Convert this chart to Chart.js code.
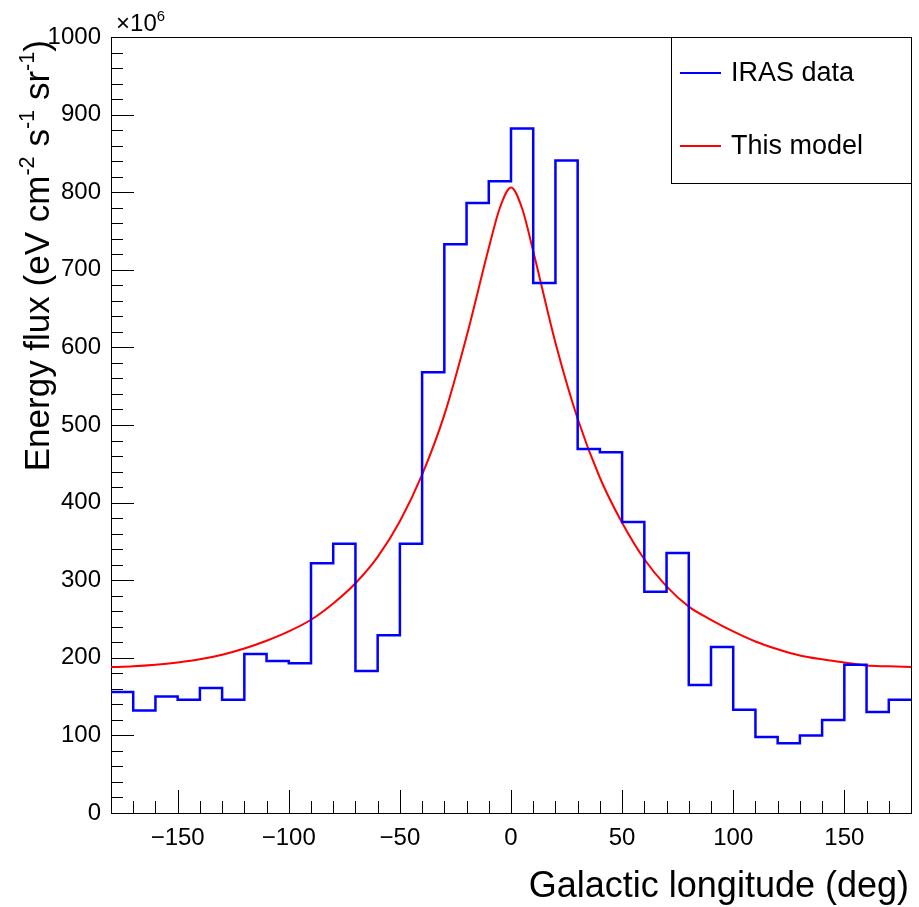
<!DOCTYPE html>
<html lang="en">
<head>
<meta charset="UTF-8">
<title>IRAS energy flux vs galactic longitude</title>
<style>
  html, body { margin: 0; padding: 0; background: #fff; }
  #wrap { width: 919px; height: 907px; position: relative; }
</style>
</head>
<body>
<div id="wrap"><canvas id="canvas"></canvas></div>

<script src="https://cdn.jsdelivr.net/npm/chart.js"></script>
<script>
// histogram bins (left edge, deg) and IRAS values (x10^6 eV cm^-2 s^-1 sr^-1)
const binStart = [-180, -170, -160, -150, -140, -130, -120, -110, -100, -90, -80, -70,
                  -60, -50, -40, -30, -20, -10, 0, 10, 20, 30, 40, 50,
                  60, 70, 80, 90, 100, 110, 120, 130, 140, 150, 160, 170];
const binEnd = 180;
const irasFlux = [156, 132, 150, 146, 161, 146, 205, 196, 193, 322, 347, 183,
                  229, 347, 568, 733, 786, 814, 882, 683, 841, 469, 465, 375,
                  285, 335, 165, 214, 133, 98, 90, 100, 120, 191, 130, 146];

// model curve
const modelLon = [-180, -170, -160, -150, -140, -130, -120, -110, -100, -90, -80, -70,
                  -60, -50, -40, -30, -20, -10, -5, 0, 5, 10, 20, 30,
                  40, 50, 60, 70, 80, 90, 100, 110, 120, 130, 140, 150, 160, 170, 180];
const modelFlux = [188, 189, 191, 194, 198, 204, 212, 222, 234, 249, 270, 296,
                   330, 376, 436, 513, 614, 728, 780, 806, 779, 724, 606, 508,
                   432, 374, 327, 292, 266, 249, 234, 221, 211, 203, 198, 194, 190, 189, 188];

const xTicks = [-150, -100, -50, 0, 50, 100, 150];
const yTicks = [0, 100, 200, 300, 400, 500, 600, 700, 800, 900, 1000];

const FONT = 'Liberation Sans, Arial, Helvetica, sans-serif';

const histPoints = binStart.map((x, i) => ({x: x, y: irasFlux[i]}));
histPoints.push({x: binEnd, y: irasFlux[irasFlux.length - 1]});
const modelPoints = modelLon.map((x, i) => ({x: x, y: modelFlux[i]}));

// draw a string made of normal/superscript pieces, right aligned at (x, y)
function richText(ctx, parts, x, y, size) {
  let w = 0;
  parts.forEach(p => {
    ctx.font = (p.sup ? size * 0.62 : size) + 'px ' + FONT;
    p.w = ctx.measureText(p.t).width;
    w += p.w;
  });
  let cx = x - w;
  ctx.textAlign = 'left';
  ctx.textBaseline = 'alphabetic';
  parts.forEach(p => {
    ctx.font = (p.sup ? size * 0.62 : size) + 'px ' + FONT;
    ctx.fillText(p.t, cx, p.sup ? y - size * 0.42 : y);
    cx += p.w;
  });
}

const rootStyle = {
  id: 'rootStyle',
  beforeDatasetsDraw(chart) {
    const {ctx, chartArea: a, scales: {x, y}} = chart;
    ctx.save();
    ctx.strokeStyle = '#000';
    ctx.lineWidth = 1;
    ctx.beginPath();
    // ticks inside the frame
    for (let v = -180; v <= 180; v += 10) {
      const px = Math.round(x.getPixelForValue(v)) + 0.5;
      const len = v % 50 === 0 ? 23 : 12;
      ctx.moveTo(px, a.bottom);
      ctx.lineTo(px, a.bottom - len);
    }
    for (let v = 0; v <= 1000; v += 20) {
      const py = Math.round(y.getPixelForValue(v)) + 0.5;
      const len = v % 100 === 0 ? 23 : 12;
      ctx.moveTo(a.left, py);
      ctx.lineTo(a.left + len, py);
    }
    ctx.stroke();
    ctx.strokeRect(Math.round(a.left) + 0.5, Math.round(a.top) + 0.5,
                   Math.round(a.right - a.left), Math.round(a.bottom - a.top));
    ctx.restore();
  },
  afterDraw(chart) {
    const {ctx, chartArea: a} = chart;
    ctx.save();
    ctx.fillStyle = '#000';

    // x10^6 exponent
    richText(ctx, [{t: '\u00d710'}, {t: '6', sup: true}], a.left + 54, 31, 24);

    // x axis title
    richText(ctx, [{t: 'Galactic longitude (deg)'}], a.right - 2, 897, 36);

    // y axis title, rotated
    ctx.save();
    ctx.translate(49, a.top + 3);
    ctx.rotate(-Math.PI / 2);
    richText(ctx, [
      {t: 'Energy flux (eV cm'}, {t: '-2', sup: true},
      {t: ' s'}, {t: '-1', sup: true},
      {t: ' sr'}, {t: '-1', sup: true}, {t: ')'}
    ], 0, 0, 35);
    ctx.restore();

    // legend box
    const lx = a.right - 240, ly = a.top, lw = 240, lh = 146;
    ctx.fillStyle = '#fff';
    ctx.fillRect(lx, ly, lw, lh);
    ctx.strokeStyle = '#000';
    ctx.lineWidth = 1;
    ctx.strokeRect(Math.round(lx) + 0.5, Math.round(ly) + 0.5, lw, lh);
    const rows = [ly + 36, ly + 109];
    chart.data.datasets.forEach((ds, i) => {
      ctx.strokeStyle = ds.borderColor;
      ctx.lineWidth = 2;
      ctx.beginPath();
      ctx.moveTo(lx + 9, rows[i]);
      ctx.lineTo(lx + 50, rows[i]);
      ctx.stroke();
      ctx.fillStyle = '#000';
      ctx.font = '27px ' + FONT;
      ctx.textAlign = 'left';
      ctx.textBaseline = 'middle';
      ctx.fillText(ds.label, lx + 60, rows[i] + 1);
    });
    ctx.restore();
  }
};

new Chart(document.getElementById('canvas').getContext('2d'), {
  type: 'line',
  data: {
    datasets: [{
      label: 'IRAS data',
      data: histPoints,
      stepped: 'before',
      borderColor: '#0000ff',
      borderWidth: 2.5,
      pointRadius: 0,
      fill: false,
      clip: 3
    }, {
      label: 'This model',
      data: modelPoints,
      borderColor: '#ff0000',
      borderWidth: 2,
      pointRadius: 0,
      cubicInterpolationMode: 'monotone',
      fill: false,
      clip: 3
    }]
  },
  options: {
    responsive: true,
    maintainAspectRatio: false,
    animation: false,
    layout: {padding: {top: 37, right: 8, left: 0, bottom: 0}},
    plugins: {
      legend: {display: false},
      tooltip: {enabled: false}
    },
    scales: {
      x: {
        type: 'linear',
        min: -180,
        max: 180,
        afterBuildTicks: s => { s.ticks = xTicks.map(v => ({value: v})); },
        afterFit: s => { s.height = 94; },
        grid: {display: false, drawTicks: false},
        border: {display: false},
        ticks: {
          padding: 11,
          color: '#000',
          font: {size: 24, family: FONT},
          maxRotation: 0,
          callback: v => v < 0 ? '\u2212' + Math.abs(v) : String(v)
        }
      },
      y: {
        min: 0,
        max: 1000,
        afterBuildTicks: s => { s.ticks = yTicks.map(v => ({value: v})); },
        afterFit: s => { s.width = 111; },
        grid: {display: false, drawTicks: false},
        border: {display: false},
        ticks: {
          padding: 10,
          color: '#000',
          font: {size: 24, family: FONT},
          callback: v => String(v)
        }
      }
    }
  },
  plugins: [rootStyle]
});
</script>
</body>
</html>
